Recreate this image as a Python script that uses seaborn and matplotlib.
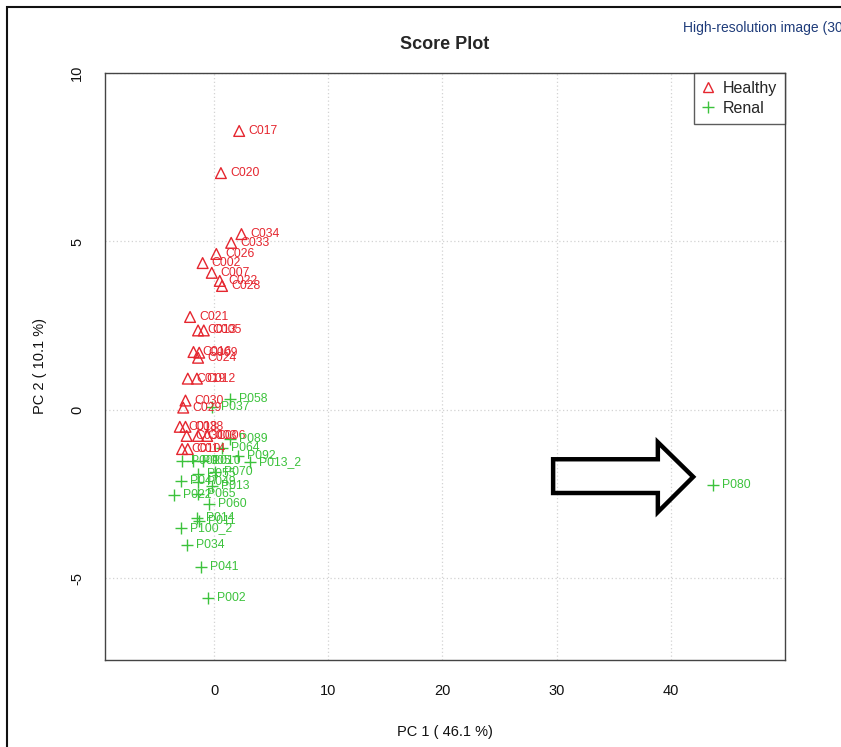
import matplotlib
matplotlib.use("Agg")
import matplotlib.pyplot as plt
from matplotlib.lines import Line2D
from matplotlib.patches import Polygon, Rectangle
import seaborn as sns
import pandas as pd

# ---------------- data ----------------
healthy_labels = ["C017", "C020", "C034", "C033", "C026", "C002", "C007", "C022", "C028",
                  "C021", "C013", "C005", "C016", "C009", "C024", "C019", "C012", "C030",
                  "C029", "C018", "C038", "C031", "C003", "C006", "C010", "C014"]
healthy_pc1 = [2.2, 0.6, 2.4, 1.5, 0.2, -1.0, -0.2, 0.5, 0.7,
               -2.1, -1.4, -0.9, -1.8, -1.3, -1.4, -2.3, -1.5, -2.5,
               -2.7, -3.0, -2.5, -2.4, -1.4, -0.6, -2.8, -2.3]
healthy_pc2 = [8.28, 7.03, 5.22, 4.96, 4.63, 4.36, 4.07, 3.83, 3.68,
               2.76, 2.36, 2.36, 1.72, 1.70, 1.55, 0.93, 0.93, 0.28,
               0.07, -0.50, -0.50, -0.77, -0.77, -0.77, -1.16, -1.16]

renal_labels = ["P058", "P037", "P089", "P064", "P092", "P013_2", "P001", "P005", "P010",
                "P055", "P070", "P047", "P049", "P013", "P022", "P065", "P060", "P014",
                "P011", "P100_2", "P034", "P041", "P002", "P080"]
renal_pc1 = [1.4, -0.2, 1.4, 0.7, 2.1, 3.15, -2.8, -1.85, -0.96,
             -1.4, 0.1, -2.9, -1.4, -0.2, -3.5, -1.4, -0.45, -1.5,
             -1.3, -2.9, -2.35, -1.15, -0.5, 43.7]
renal_pc2 = [0.33, 0.09, -0.85, -1.12, -1.37, -1.54, -1.51, -1.51, -1.51,
             -1.9, -1.85, -2.1, -2.15, -2.27, -2.52, -2.5, -2.8, -3.2,
             -3.3, -3.5, -4.0, -4.66, -5.58, -2.23]

x_ticks = [0, 10, 20, 30, 40]
y_ticks = [-5, 0, 5, 10]

df = pd.concat([
    pd.DataFrame({"label": healthy_labels, "PC1": healthy_pc1, "PC2": healthy_pc2, "group": "Healthy"}),
    pd.DataFrame({"label": renal_labels, "PC1": renal_pc1, "PC2": renal_pc2, "group": "Renal"}),
], ignore_index=True)

RED = "#E5262F"
GREEN = "#3CC23C"
colors = {"Healthy": RED, "Renal": GREEN}

sns.set_style("white")
plt.rcParams["font.family"] = ["Liberation Sans", "DejaVu Sans"]

fig = plt.figure(figsize=(8.41, 7.47), dpi=100)
ax = fig.add_axes([105 / 841, 1 - 660 / 747, 680 / 841, 587 / 747])

# grid (R style dotted light gray)
for xt in x_ticks:
    ax.axvline(xt, color="#D3D3D3", lw=0.9, ls=(0, (1, 2)), zorder=0)
for yt in y_ticks:
    ax.axhline(yt, color="#D3D3D3", lw=0.9, ls=(0, (1, 2)), zorder=0)

h = df[df.group == "Healthy"]
r = df[df.group == "Renal"]
sns.scatterplot(data=h, x="PC1", y="PC2", marker="^", s=60, ax=ax, legend=False, zorder=3)
coll = ax.collections[-1]
coll.set_facecolor("none")
coll.set_edgecolor(RED)
coll.set_linewidth(1.0)
sns.scatterplot(data=r, x="PC1", y="PC2", marker="+", s=75, color=GREEN, linewidth=1.0,
                ax=ax, legend=False, zorder=3)

for _, row in df.iterrows():
    ax.annotate(row["label"], (row["PC1"], row["PC2"]), xytext=(6.5, 0),
                textcoords="offset points", va="center", ha="left",
                fontsize=8.8, color=colors[row["group"]], zorder=4)

ax.set_xlim(-9.55, 50.0)
ax.set_ylim(-7.42, 10.0)
ax.set_xticks(x_ticks)
ax.set_yticks(y_ticks)
ax.set_yticklabels([str(v) for v in y_ticks], rotation=90, va="center")
ax.tick_params(axis="both", direction="out", length=5, width=0.9, color="#333333",
               labelsize=10.5, labelcolor="#111111")
ax.tick_params(axis="x", pad=12)
ax.tick_params(axis="y", pad=10)
for sp in ax.spines.values():
    sp.set_visible(True)
    sp.set_color("#444444")
    sp.set_linewidth(1.0)

ax.set_xlabel("PC 1 ( 46.1 %)", fontsize=10.5, color="#111111", labelpad=20)
ax.set_ylabel("PC 2 ( 10.1 %)", fontsize=10.5, color="#111111", labelpad=17)
ax.set_title("Score Plot", fontsize=13, fontweight="bold", pad=17)

handles = [Line2D([], [], marker="^", ls="none", mfc="none", mec=RED, ms=7.5, mew=1.0),
           Line2D([], [], marker="+", ls="none", color=GREEN, ms=9, mew=1.0)]
leg = ax.legend(handles, ["Healthy", "Renal"], loc="upper right", fontsize=11.5,
                frameon=True, fancybox=False, borderaxespad=0, handlelength=0.8,
                handletextpad=0.5, borderpad=0.5, labelspacing=0.3)
leg.get_frame().set_edgecolor("#333333")
leg.get_frame().set_linewidth(1.0)

# highlight arrow (axes fraction coordinates)
arrow_pts = [(0.659, 0.342), (0.813, 0.342), (0.813, 0.371), (0.865, 0.312),
             (0.813, 0.252), (0.813, 0.2845), (0.659, 0.2845)]
ax.add_patch(Polygon(arrow_pts, closed=True, fill=False, edgecolor="black", lw=3.2,
                     joinstyle="miter", transform=ax.transAxes, zorder=5, clip_on=False))

# page decorations
fig.text(683 / 841, 1 - 28 / 747, "High-resolution image (30", fontsize=10,
         color="#1F3C7A", ha="left", va="center",
         family=["Liberation Sans Narrow", "Liberation Sans", "DejaVu Sans"])
fig.patches.append(Rectangle((7 / 841, -0.05), 1.1, 1 - 7 / 747 + 0.05, fill=False,
                             edgecolor="#111111", lw=1.5, transform=fig.transFigure))

fig.savefig("out.png", dpi=100)
